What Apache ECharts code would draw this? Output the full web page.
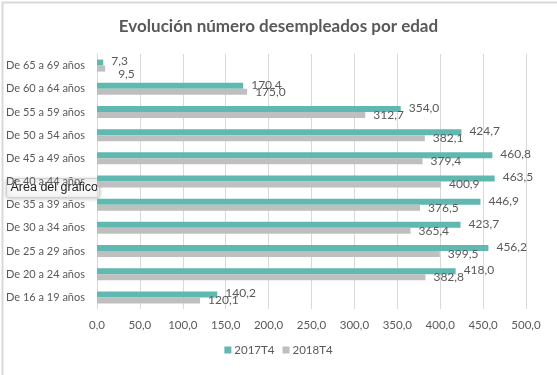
<!DOCTYPE html>
<html>
<head>
<meta charset="utf-8">
<script src="https://cdn.jsdelivr.net/npm/echarts@6/dist/echarts.min.js"></script>
<style>
  html, body { margin: 0; padding: 0; background: #fff; }
  #chart { width: 557px; height: 375px; }
</style>
</head>
<body>
<div id="chart"></div>
<script>
// grupos de edad, de abajo hacia arriba
const categories = [
  'De 16 a 19 años', 'De 20 a 24 años', 'De 25 a 29 años', 'De 30 a 34 años',
  'De 35 a 39 años', 'De 40 a 44 años', 'De 45 a 49 años', 'De 50 a 54 años',
  'De 55 a 59 años', 'De 60 a 64 años', 'De 65 a 69 años'
];
const values2017T4 = [140.2, 418.0, 456.2, 423.7, 446.9, 463.5, 460.8, 424.7, 354.0, 170.4, 7.3];
const values2018T4 = [120.1, 382.8, 399.5, 365.4, 376.5, 400.9, 379.4, 382.1, 312.7, 175.0, 9.5];
const xTicks = [0, 50, 100, 150, 200, 250, 300, 350, 400, 450, 500];

const chart = echarts.init(document.getElementById('chart'));

const fmt = (v) => v.toFixed(1).replace('.', ',');
const textColor = '#595959';
const font = 'Lato, sans-serif';
const lastIdx = categories.length - 1;

const option = {
  animation: false,
  textStyle: { fontFamily: font },
  title: {
    text: 'Evolución número desempleados por edad',
    left: 'center',
    top: 13,
    textStyle: { fontSize: 17, fontWeight: 'bold', color: textColor, fontFamily: font }
  },
  legend: {
    data: ['2017T4', '2018T4'],
    bottom: 14,
    left: 'center',
    itemWidth: 7,
    itemHeight: 7,
    itemGap: 8,
    icon: 'rect',
    textStyle: { fontSize: 11.5, color: textColor, padding: [0, 0, 0, -2] }
  },
  grid: { left: 97, right: 31, top: 54, bottom: 66, containLabel: false, outerBoundsMode: 'none' },
  xAxis: {
    type: 'value',
    min: xTicks[0],
    max: xTicks[xTicks.length - 1],
    interval: 50,
    axisLine: { show: false },
    axisTick: { show: false },
    splitLine: { lineStyle: { color: '#d9d9d9' } },
    axisLabel: { color: textColor, fontSize: 11.5, margin: 10, formatter: fmt }
  },
  yAxis: {
    type: 'category',
    data: categories,
    axisLine: { show: true, lineStyle: { color: '#d9d9d9' } },
    axisTick: { show: false },
    axisLabel: { color: textColor, fontSize: 11, margin: 12 }
  },
  series: [
    {
      name: '2017T4',
      type: 'bar',
      data: values2017T4,
      barWidth: 6,
      barGap: '0%',
      itemStyle: { color: '#5fb9b0' },
      label: { show: true, position: 'right', distance: 8, offset: [0, -1], color: textColor, fontSize: 12, formatter: (p) => fmt(p.value) }
    },
    {
      name: '2018T4',
      type: 'bar',
      data: values2018T4,
      barWidth: 6,
      barGap: '0%',
      itemStyle: { color: '#bfbfbf' },
      label: { show: true, position: 'right', distance: 8, offset: [0, 1], color: textColor, fontSize: 12, formatter: (p) => fmt(p.value) },
      // la etiqueta 9,5 va algo desplazada para no chocar con 7,3
      labelLayout: (p) => (p.dataIndex === lastIdx ? { dx: 5, dy: 6 } : null)
    }
  ],
  graphic: [
    {
      type: 'rect',
      left: 0, top: 0,
      shape: { width: 556, height: 374 },
      style: { fill: 'none', stroke: '#d9d9d9', lineWidth: 2 },
      silent: true
    },
    {
      type: 'group',
      left: 6, top: 178,
      z: 100,
      children: [
        {
          type: 'rect',
          shape: { width: 93, height: 19, r: 2 },
          style: { fill: '#f7f7f7', stroke: '#d0d0d0', lineWidth: 1, shadowBlur: 4, shadowColor: 'rgba(0,0,0,0.2)', shadowOffsetY: 1 }
        },
        {
          type: 'text',
          left: 4, top: 3,
          style: { text: 'Área del gráfico', fontSize: 12.5, fill: '#222', fontFamily: 'Liberation Sans, sans-serif' }
        }
      ]
    }
  ]
};

chart.setOption(option);
</script>
</body>
</html>
